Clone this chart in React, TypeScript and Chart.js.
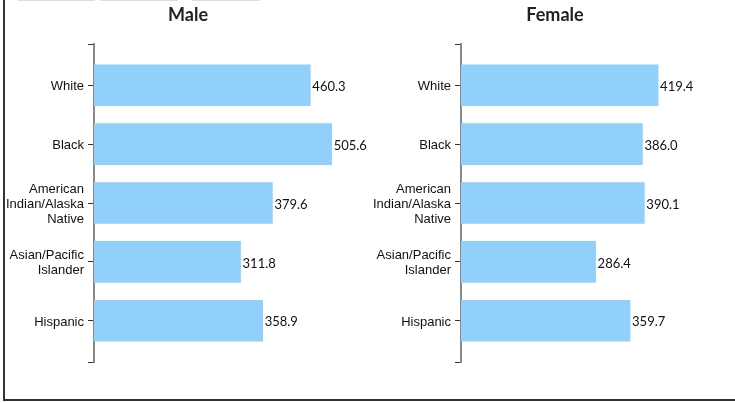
import React, { useEffect, useRef } from "react";
import { Chart, registerables } from "chart.js";

Chart.register(...registerables);

const CATEGORIES: string[][] = [
  ["White"],
  ["Black"],
  ["American", "Indian/Alaska", "Native"],
  ["Asian/Pacific", "Islander"],
  ["Hispanic"],
];
const MALE_VALUES = [460.3, 505.6, 379.6, 311.8, 358.9];
const FEMALE_VALUES = [419.4, 386.0, 390.1, 286.4, 359.7];
const Y_TICKS = [-0.7, 0, 1, 2, 3, 4, 4.7];
const X_MAX = 600;

const valueLabels = {
  id: "valueLabels",
  afterDatasetsDraw(chart: any) {
    const ctx = chart.ctx;
    const meta = chart.getDatasetMeta(0);
    const data = chart.data.datasets[0].data;
    ctx.save();
    ctx.font = "13px Lato";
    ctx.fillStyle = "#111";
    ctx.textAlign = "left";
    ctx.textBaseline = "middle";
    meta.data.forEach((bar: any, i: number) => {
      ctx.fillText(Number(data[i].x).toFixed(1), bar.x + 2, bar.y + 1.5);
    });
    ctx.restore();
  },
};

function Panel({ title, values, left }: { title: string; values: number[]; left: number }) {
  const ref = useRef<HTMLCanvasElement>(null);
  useEffect(() => {
    const chart = new Chart(ref.current!, {
      type: "bar",
      data: {
        datasets: [
          {
            data: values.map((v, i) => ({ x: v, y: i })) as any,
            backgroundColor: "rgb(145, 208, 250)",
            borderWidth: 0,
            barThickness: 41,
          },
        ],
      },
      plugins: [valueLabels],
      options: {
        indexAxis: "y",
        animation: false,
        responsive: false,
        layout: { padding: { left: 0, right: 0, top: 0, bottom: 41 } },
        plugins: {
          legend: { display: false },
          tooltip: { enabled: false },
          title: {
            display: true,
            text: title,
            color: "#222",
            font: { family: "Lato", size: 18, weight: "bold" },
            padding: { top: 4, bottom: 18.4 },
          },
        },
        scales: {
          x: { type: "linear", display: false, min: 0, max: X_MAX },
          y: {
            type: "linear",
            reverse: true,
            offset: false,
            min: Y_TICKS[0],
            max: Y_TICKS[Y_TICKS.length - 1],
            afterBuildTicks: (scale: any) => {
              scale.ticks = Y_TICKS.map((v) => ({ value: v }));
            },
            afterFit: (scale: any) => {
              scale.width = 94;
            },
            ticks: {
              autoSkip: false,
              padding: 4,
              labelOffset: 1.5,
              color: "#111",
              font: { family: "Arial, 'Liberation Sans'", size: 13, lineHeight: 1.15 },
              callback: (value: any) =>
                Number.isInteger(value) ? CATEGORIES[value] : "",
            },
            grid: {
              display: true,
              offset: false,
              drawOnChartArea: false,
              drawTicks: true,
              tickLength: 6,
              color: "#333",
              lineWidth: 1,
            },
            border: { display: true, color: "#888", width: 2 },
          },
        },
      } as any,
    });
    return () => chart.destroy();
  }, []);
  return (
    <canvas
      ref={ref}
      width={376}
      height={403}
      style={{ position: "absolute", left, top: 0, width: 376, height: 403 }}
    />
  );
}

export default function App() {
  return (
    <div
      style={{
        position: "fixed",
        left: 0,
        top: 0,
        width: 735,
        height: 403,
        overflow: "hidden",
        background: "#fff",
      }}
    >
      <div
        style={{
          position: "absolute",
          left: 3,
          top: -5,
          width: 800,
          height: 406,
          boxSizing: "border-box",
          borderLeft: "2px solid #333",
          borderBottom: "2px solid #333",
        }}
      />
      <div style={{ position: "absolute", left: 18, top: -10, width: 77, height: 10, borderBottom: "1px solid #ddd" }} />
      <div style={{ position: "absolute", left: 100, top: -10, width: 78, height: 10, borderBottom: "1px solid #ddd" }} />
      <div style={{ position: "absolute", left: 192, top: -10, width: 68, height: 10, borderBottom: "1px solid #ddd" }} />
      <Panel title="Male" values={MALE_VALUES} left={0} />
      <Panel title="Female" values={FEMALE_VALUES} left={367} />
    </div>
  );
}
